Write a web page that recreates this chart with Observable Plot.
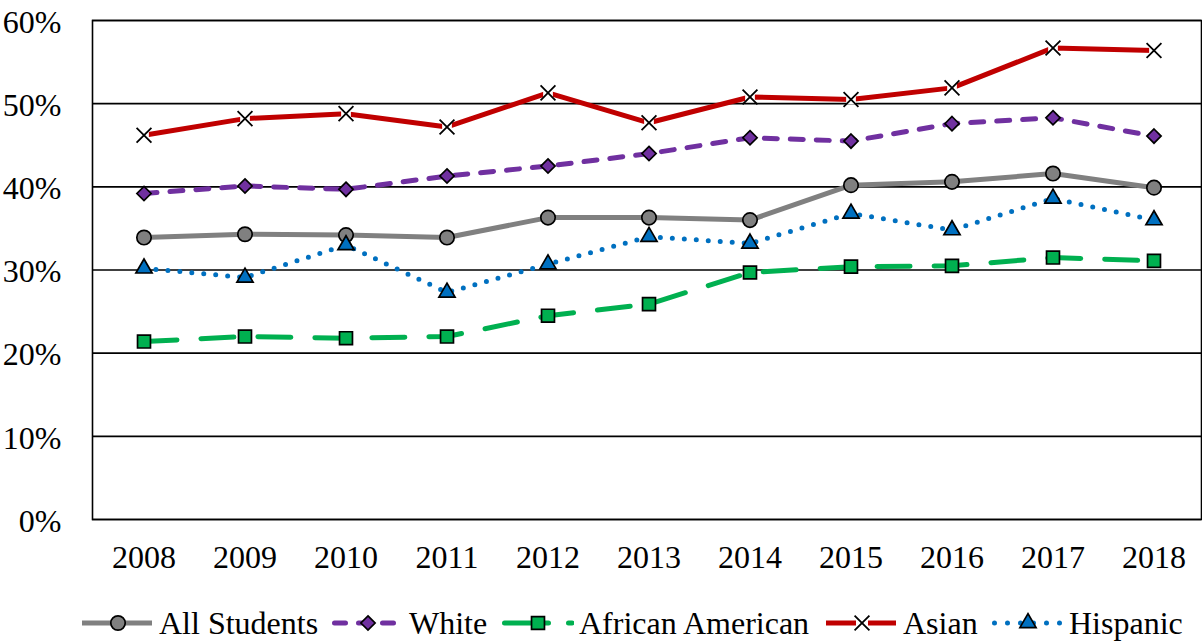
<!DOCTYPE html>
<html>
<head>
<meta charset="utf-8">
<script src="https://cdn.jsdelivr.net/npm/d3@7"></script>
<script src="https://cdn.jsdelivr.net/npm/@observablehq/plot@0.6"></script>
<style>
  html, body { margin: 0; padding: 0; background: #fff; }
  #wrap { position: relative; width: 1202px; height: 641px; font-family: "Liberation Serif", "Times New Roman", serif; }
  #legend { position: absolute; left: 0; top: 605px; width: 1202px; height: 36px; }
  .item { position: absolute; top: 0; height: 36px; display: flex; align-items: center; font-size: 32px; color: #000; white-space: nowrap; }
  .item svg { margin-right: 5px; }
</style>
</head>
<body>
<div id="wrap"><div id="chart"></div><div id="legend"></div></div>
<script>
const years = ["2008","2009","2010","2011","2012","2013","2014","2015","2016","2017","2018"];
const allStudents = [33.9,34.3,34.2,33.9,36.3,36.3,36.0,40.2,40.6,41.6,39.9];
const white = [39.2,40.1,39.7,41.3,42.5,44.0,45.9,45.5,47.6,48.3,46.1];
const africanAmerican = [21.4,22.0,21.8,22.0,24.5,25.9,29.7,30.4,30.5,31.5,31.1];
const asian = [46.2,48.2,48.8,47.2,51.3,47.7,50.8,50.5,51.9,56.7,56.4];
const hispanic = [30.2,29.1,33.0,27.3,30.7,34.0,33.2,36.8,34.8,38.6,36.0];
const yTicks = [0,10,20,30,40,50,60];
const seriesNames = ["All Students","White","African American","Asian","Hispanic"];

const series = [
  {name: seriesNames[0], values: allStudents, color: "#808080", dash: null, legendDash: null, symbol: "circle", fill: "#808080", r: 7.2, cap: "butt"},
  {name: seriesNames[1], values: white, color: "#7030A0", dash: "13,13", legendDash: "11,13", symbol: "diamond2", fill: "#7030A0", r: 6.4, cap: "round"},
  {name: seriesNames[2], values: africanAmerican, color: "#00B050", dash: "33,24", legendDash: "44,20", symbol: "square", fill: "#00B050", r: 7.3, cap: "round"},
  {name: seriesNames[3], values: asian, color: "#C00000", dash: null, legendDash: null, symbol: "times", fill: "none", r: 6.8, cap: "butt"},
  {name: seriesNames[4], values: hispanic, color: "#0070C0", dash: "0,12", legendDash: "0,13", symbol: "triangle", fill: "#0070C0", r: 6.0, cap: "round"}
];

const marks = [
  Plot.ruleY(yTicks, {stroke: "#000", strokeWidth: 1.6}),
  Plot.frame({stroke: "#000", strokeWidth: 1.6}),
  Plot.axisY({ticks: yTicks, tickSize: 0, tickPadding: 31, dy: 2, fontSize: 32, tickFormat: d => d + "%", label: null}),
  Plot.axisX({tickSize: 0, tickPadding: 26, fontSize: 32, label: null})
];

for (const s of series) {
  const data = years.map((y, i) => ({year: y, value: s.values[i]}));
  marks.push(Plot.line(data, {
    x: "year", y: "value", stroke: s.color, strokeWidth: 5,
    strokeDasharray: s.dash, strokeLinecap: s.cap, strokeLinejoin: "round"
  }));
  if (s.symbol === "times") {
    marks.push(Plot.dot(data, {x: "year", y: "value", symbol: "square", r: 5.5, fill: "#fff", stroke: "none"}));
    marks.push(Plot.dot(data, {x: "year", y: "value", symbol: "times", r: s.r, stroke: "#000", strokeWidth: 1.8}));
  } else {
    marks.push(Plot.dot(data, {x: "year", y: "value", symbol: s.symbol, r: s.r, fill: s.fill, stroke: "#000", strokeWidth: 1.7}));
  }
}

const chart = Plot.plot({
  width: 1202,
  height: 600,
  marginLeft: 92,
  marginRight: 1,
  marginTop: 20,
  marginBottom: 81,
  style: {fontFamily: "'Liberation Serif', 'Times New Roman', serif", fontSize: "32px", color: "#000", background: "#fff", overflow: "visible"},
  x: {type: "band", domain: years, padding: 0, range: [91, 1205], label: null},
  y: {domain: [0, 60], label: null},
  marks
});
document.getElementById("chart").appendChild(chart);

// Legend
const legendPos = [82, 332, 502, 826, 992];
const legend = document.getElementById("legend");
series.forEach((s, i) => {
  const item = document.createElement("div");
  item.className = "item";
  item.style.left = legendPos[i] + "px";
  const w = 72;
  const sw = d3.create("svg").attr("width", w).attr("height", 36);
  sw.append("line").attr("x1", s.legendDash ? 2.5 : 0).attr("x2", w - 2).attr("y1", 18).attr("y2", 18)
    .attr("stroke", s.color).attr("stroke-width", 5)
    .attr("stroke-dasharray", s.legendDash)
    .attr("stroke-linecap", s.cap);
  const sym = {circle: d3.symbolCircle, diamond2: d3.symbolDiamond2, square: d3.symbolSquare, times: d3.symbolTimes, triangle: d3.symbolTriangle}[s.symbol];
  const size = Math.PI * s.r * s.r;
  const cx = 36;
  if (s.symbol === "times") {
    sw.append("rect").attr("x", cx - 6).attr("y", 12).attr("width", 12).attr("height", 12).attr("fill", "#fff");
    sw.append("path").attr("d", d3.symbol(sym, size)()).attr("transform", `translate(${cx},18)`).attr("stroke", "#000").attr("stroke-width", 1.8).attr("fill", "none");
  } else {
    sw.append("path").attr("d", d3.symbol(sym, size)()).attr("transform", `translate(${cx},18)`).attr("fill", s.fill).attr("stroke", "#000").attr("stroke-width", 1.7);
  }
  item.appendChild(sw.node());
  const t = document.createElement("span");
  t.textContent = s.name;
  item.appendChild(t);
  legend.appendChild(item);
});
</script>
</body>
</html>
